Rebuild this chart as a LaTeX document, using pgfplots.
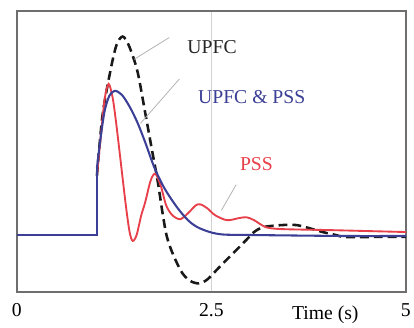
\documentclass[border=0pt]{standalone}
\usepackage{pgfplots}
\pgfplotsset{compat=1.18}
\usetikzlibrary{calc}
\usepackage{fontspec}
\setmainfont{Liberation Serif}
\definecolor{cblue}{HTML}{3B3F95}
\definecolor{cred}{HTML}{E8404A}
\definecolor{cframe}{HTML}{6E6E6E}
\begin{document}
\begin{tikzpicture}
\begin{axis}[
  name=ax,
  scale only axis,
  width=394bp, height=285bp,
  xmin=0, xmax=5, ymin=-58, ymax=227,
  xtick={0,2.5,5}, xticklabels={0,2.5,5},
  ytick=\empty,
  major tick length=0pt,
  xmajorgrids,
  grid style={gray!35, line width=0.6pt},
  axis line style={cframe, line width=1.8pt},
  tick label style={font=\fontsize{20}{24}\selectfont},
  xticklabel style={yshift=-8bp},
  /pgf/number format/assume math mode=true,
  clip=true,
]
% UPFC (black dashed)
\addplot[black!90, line width=2.6pt, dash pattern=on 9bp off 5bp] coordinates {(0,0) (1.03,0) (1.03,60)};
\addplot[black!90, line width=2.6pt, dash pattern=on 9bp off 5bp, smooth, tension=0.5] coordinates {
(1.03,60) (1.1,120) (1.2,165) (1.28,192) (1.36,201) (1.44,192) (1.55,166) (1.65,124) (1.74,85) (1.81,55)
(1.93,-2) (2.1,-35) (2.22,-46) (2.34,-49) (2.45,-45) (2.61,-32) (2.8,-17) (2.95,-5) (3.05,3) (3.17,8)
(3.4,10) (3.6,10) (3.8,6) (3.93,3) (4.1,0) (4.22,-2) (4.6,-2) (5,-2)};
% PSS (red)
\addplot[cred, line width=1.9pt] coordinates {(1.03,0) (1.03,60)};
\addplot[cred, line width=1.9pt, smooth, tension=0.5] coordinates {
(1.03,60) (1.08,100) (1.13,138) (1.18,153) (1.23,140) (1.27,118) (1.32,85) (1.40,31) (1.45,3) (1.49,-6)
(1.54,0) (1.60,20) (1.65,33) (1.72,55) (1.78,62) (1.85,50) (1.92,30) (2.0,20) (2.1,16) (2.2,22)
(2.3,30) (2.36,31) (2.45,27) (2.55,20) (2.7,15) (2.85,17) (2.95,18) (3.05,15) (3.2,8) (3.4,6)
(4.0,5) (4.5,4) (5,3)};
% UPFC & PSS (blue)
\addplot[cblue, line width=2.1pt] coordinates {(0,0) (1.03,0) (1.03,68)};
\addplot[cblue, line width=2.1pt, smooth, tension=0.5] coordinates {
(1.03,68) (1.08,100) (1.13,126) (1.19,141) (1.26,146) (1.35,142) (1.45,130) (1.55,114) (1.65,94)
(1.77,68) (1.9,47) (2.06,28) (2.2,15) (2.32,8) (2.48,3) (2.65,0.5) (3,0) (4.2,-1) (5,-1)};
% labels and leader lines
\draw[gray!60, line width=0.8pt] (axis cs:1.96,200) -- (axis cs:1.51,178);
\draw[gray!60, line width=0.8pt] (axis cs:2.09,158) -- (axis cs:1.59,113);
\draw[gray!60, line width=0.8pt] (axis cs:2.82,51) -- (axis cs:2.63,25);
\node[font=\fontsize{20}{24}\selectfont, text=black!85] at (axis cs:2.51,190) {UPFC};
\node[font=\fontsize{20}{24}\selectfont, text=cblue] at (axis cs:3.02,140) {UPFC \& PSS};
\node[font=\fontsize{20}{24}\selectfont, text=cred] at (axis cs:3.08,72) {PSS};
\end{axis}
\node[anchor=base, font=\fontsize{20}{24}\selectfont, yshift=-28bp] at ($(ax.south west)!0.793!(ax.south east)$) {Time (s)};
\path (ax.south west) ++(-17bp,-36bp) rectangle ++(414bp,332bp);
\end{tikzpicture}
\end{document}
